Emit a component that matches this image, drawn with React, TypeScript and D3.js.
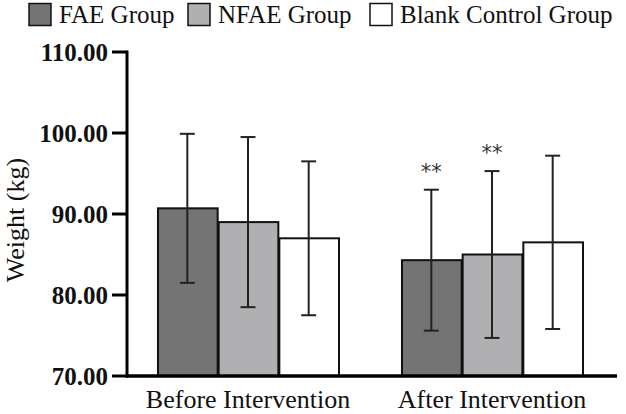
import React from "react";
import * as d3 from "d3";

const categories = ["Before Intervention", "After Intervention"];
const seriesNames = ["FAE Group", "NFAE Group", "Blank Control Group"];
const faeMeans = [90.7, 84.3];
const faeSd = [9.2, 8.7];
const nfaeMeans = [89.0, 85.0];
const nfaeSd = [10.5, 10.3];
const blankMeans = [87.0, 86.5];
const blankSd = [9.5, 10.7];
const faeSig = ["", "**"];
const nfaeSig = ["", "**"];
const blankSig = ["", ""];
const yTicks = [70, 80, 90, 100, 110];

const W = 626;
const H = 414;
const colors = ["#747474", "#b0b0b3", "#ffffff"];

export default function App() {
  const means = [faeMeans, nfaeMeans, blankMeans];
  const sds = [faeSd, nfaeSd, blankSd];
  const sigs = [faeSig, nfaeSig, blankSig];

  const x0 = d3.scaleBand<string>().domain(categories).range([126, 614]).paddingInner(0.254).paddingOuter(0.127);
  const x1 = d3.scaleBand<string>().domain(seriesNames).range([0, x0.bandwidth()]).padding(0);
  const y = d3.scaleLinear().domain([70, 110]).range([376, 52]);

  const legendX = [29, 188, 370];
  const serif = "'Liberation Serif', 'Times New Roman', serif";

  return (
    <svg width={W} height={H} style={{ position: "absolute", left: 0, top: 0, background: "#fff" }} fontFamily={serif}>
      {/* legend */}
      {seriesNames.map((s, i) => (
        <g key={s}>
          <rect x={legendX[i]} y={3.5} width={22} height={22} fill={colors[i]} stroke="#111" strokeWidth={1.5} />
          <text x={legendX[i] + 30} y={23} fontSize={25} fill="#111">{s}</text>
        </g>
      ))}

      {/* bars */}
      {categories.map((c, ci) => (
        <g key={c} transform={`translate(${x0(c)},0)`}>
          {seriesNames.map((s, si) => {
            const m = means[si][ci];
            const sd = sds[si][ci];
            const bx = x1(s)!;
            const bw = x1.bandwidth();
            const cx = bx + bw / 2;
            return (
              <g key={s}>
                <rect x={bx + 1} y={y(m)} width={bw - 1} height={y(70) - y(m)} fill={colors[si]} stroke="#111" strokeWidth={2} />
                <line x1={cx} x2={cx} y1={y(m + sd)} y2={y(m - sd)} stroke="#222" strokeWidth={2} />
                <line x1={cx - 7.5} x2={cx + 7.5} y1={y(m + sd)} y2={y(m + sd)} stroke="#222" strokeWidth={2} />
                <line x1={cx - 7.5} x2={cx + 7.5} y1={y(m - sd)} y2={y(m - sd)} stroke="#222" strokeWidth={2} />
                {sigs[si][ci] && (
                  <text x={cx} y={y(m + sd) - 11} textAnchor="middle" fontSize={21} fill="#333" fontFamily="'DejaVu Sans', sans-serif">{sigs[si][ci]}</text>
                )}
              </g>
            );
          })}
          <text x={x0.bandwidth() / 2} y={408} textAnchor="middle" fontSize={26} fill="#111">{c}</text>
        </g>
      ))}

      {/* y axis */}
      <line x1={127} x2={127} y1={y(110) - 1.5} y2={y(70) + 1.5} stroke="#000" strokeWidth={3} />
      {yTicks.map((t) => (
        <g key={t}>
          <line x1={112} x2={127} y1={y(t)} y2={y(t)} stroke="#000" strokeWidth={3} />
          <text x={108} y={y(t)} dy="0.35em" textAnchor="end" fontSize={25} fontWeight="bold" fill="#111">{d3.format(".2f")(t)}</text>
        </g>
      ))}
      {/* x axis */}
      <line x1={126} x2={617} y1={y(70)} y2={y(70)} stroke="#000" strokeWidth={3.5} />

      <text transform={`translate(24,${220}) rotate(-90)`} textAnchor="middle" fontSize={26} fill="#111">Weight (kg)</text>
    </svg>
  );
}
